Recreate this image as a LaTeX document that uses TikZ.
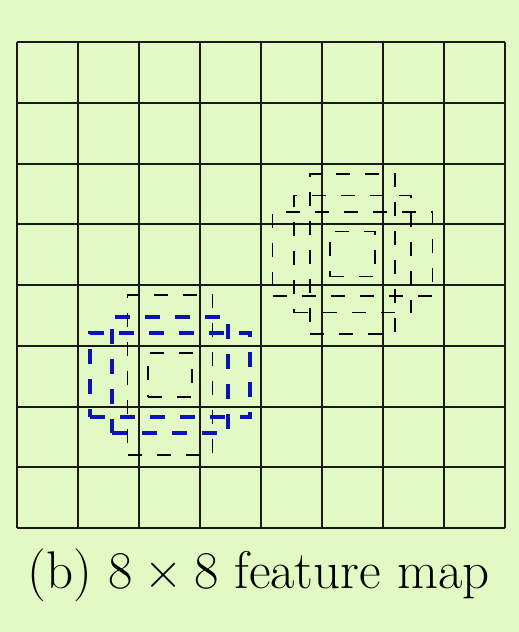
\documentclass[tikz,border=0pt]{standalone}
\usepackage{tikz}
\usetikzlibrary{positioning, calc}
\definecolor{bggreen}{HTML}{E3F9C4}
\definecolor{matchblue}{HTML}{0A14B4}

\begin{document}
\begin{tikzpicture}[x=1pt, y=-1pt,
                gridline/.style={draw=black!90, line width=2pt},
                dbox/.style={draw=black, line width=1.7pt, rectangle, dash pattern=on 14pt off 15pt, inner sep=0pt},
                mbox/.style={draw=matchblue, line width=3.8pt, rectangle, dash pattern=on 15pt off 15pt, inner sep=0pt},
                caption/.style={font=\fontsize{53}{58}\selectfont, anchor=base, inner sep=0pt}
            ]

            % Hintergrund
            \fill[bggreen] (0,0) rectangle (519,632);
            \useasboundingbox (0,0) rectangle (519,632);

            % Gitter 8x8
            \foreach \i in {0,...,8} {
                \draw[gridline] ({17+61*\i},42) -- ({17+61*\i},528);
                \draw[gridline] (17,{42+60.75*\i}) -- (505,{42+60.75*\i});
            }

            % Zentren
            \coordinate (cL) at (170,375);
            \coordinate (cR) at (352.5,254);

            % Boxen links
            \node[dbox, minimum width=85pt, minimum height=160pt] (vL) at (cL) {};
            \node[dbox, minimum size=44pt] (sL) at (cL) {};
            \node[mbox, minimum width=160pt, minimum height=84pt] (hL) at (cL) {};
            \node[mbox, minimum size=116pt] (qL) at (cL) {};

            % Boxen rechts
            \node[dbox, minimum width=85pt, minimum height=160pt] (vR) at (cR) {};
            \node[dbox, minimum size=45pt] (sR) at (cR) {};
            \node[dbox, minimum width=160pt, minimum height=84pt] (hR) at (cR) {};
            \node[dbox, minimum size=117pt] (qR) at (cR) {};

            % Beschriftung
            \node[caption] (cap) at (258.5,588) {(b) 8\kern0.222em×\kern0.222em8 feature map};

        \end{tikzpicture}
\end{document}
